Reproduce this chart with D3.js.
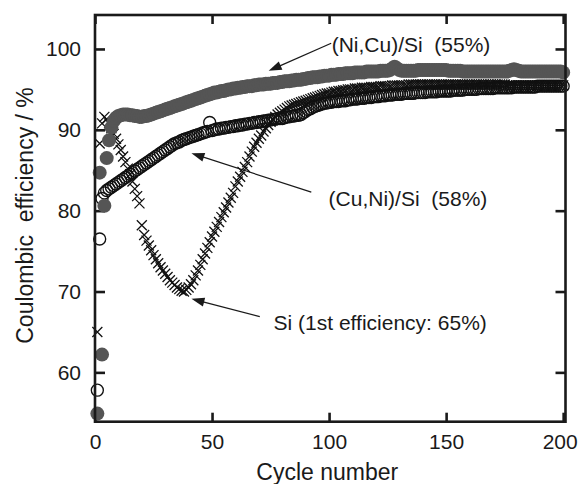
<!DOCTYPE html>
<html><head><meta charset="utf-8">
<script src="https://cdn.jsdelivr.net/npm/d3@7/dist/d3.min.js"></script>
<style>
html,body{margin:0;padding:0;background:#fff;}
svg{display:block;}
text{font-family:"Liberation Sans",Arial,Helvetica,sans-serif;fill:#1a1a1a;}
</style></head><body>
<svg id="chart" width="579" height="484"></svg>
<script>
// ---------- data ----------
const cycles = d3.range(1, 201);

const niCuSi = [
54.9,84.7,62.2,80.6,86.5,88.7,90.3,91.1,91.5,91.7,
91.8,91.9,91.9,91.9,91.8,91.8,91.7,91.7,91.6,91.6,
91.7,91.7,91.8,91.9,92.0,92.1,92.2,92.3,92.4,92.5,
92.6,92.7,92.8,92.9,93.0,93.1,93.2,93.3,93.4,93.5,
93.6,93.7,93.8,93.9,94.0,94.1,94.2,94.3,94.4,94.5,
94.6,94.6,94.7,94.8,94.8,94.9,95.0,95.0,95.1,95.1,
95.2,95.2,95.3,95.3,95.4,95.4,95.4,95.5,95.5,95.6,
95.6,95.6,95.7,95.7,95.7,95.8,95.8,95.8,95.9,95.9,
96.0,96.0,96.0,96.1,96.1,96.2,96.2,96.2,96.3,96.3,
96.4,96.4,96.5,96.5,96.5,96.6,96.6,96.7,96.7,96.7,
96.8,96.8,96.8,96.9,96.9,96.9,97.0,97.0,97.0,97.0,
97.1,97.1,97.1,97.1,97.1,97.2,97.2,97.2,97.2,97.2,
97.2,97.3,97.3,97.3,97.3,97.4,97.6,97.8,97.6,97.4,
97.3,97.3,97.3,97.3,97.3,97.3,97.3,97.4,97.4,97.4,
97.4,97.4,97.4,97.4,97.4,97.4,97.4,97.4,97.4,97.4,
97.3,97.3,97.3,97.3,97.3,97.3,97.2,97.2,97.2,97.2,
97.2,97.2,97.2,97.2,97.2,97.2,97.2,97.2,97.2,97.2,
97.2,97.2,97.2,97.2,97.2,97.2,97.3,97.4,97.5,97.4,
97.3,97.2,97.2,97.2,97.2,97.2,97.2,97.2,97.2,97.2,
97.2,97.2,97.2,97.2,97.2,97.2,97.2,97.2,97.2,97.1];

const cuNiSi = [
57.8,76.5,81.5,82.2,82.5,82.7,82.9,83.1,83.3,83.5,
83.7,83.9,84.1,84.3,84.5,84.7,84.9,85.1,85.3,85.5,
85.7,85.9,86.1,86.3,86.5,86.7,86.9,87.1,87.3,87.5,
87.7,87.9,88.1,88.3,88.4,88.5,88.7,88.8,88.9,89.0,
89.1,89.2,89.3,89.4,89.5,89.6,89.7,89.8,90.9,89.9,
90.0,90.1,90.1,90.2,90.2,90.3,90.3,90.4,90.4,90.5,
90.5,90.6,90.6,90.7,90.7,90.8,90.8,90.9,90.9,91.0,
91.0,91.1,91.1,91.2,91.2,91.3,91.3,91.4,91.4,91.4,
91.5,91.6,91.6,91.7,91.7,91.8,91.8,91.9,92.1,92.3,
92.5,92.6,92.8,92.9,93.0,93.1,93.2,93.3,93.3,93.4,
93.4,93.5,93.5,93.5,93.6,93.6,93.6,93.7,93.7,93.8,
93.8,93.8,93.9,93.9,93.9,94.0,94.0,94.0,94.1,94.1,
94.1,94.2,94.2,94.2,94.3,94.3,94.3,94.4,94.4,94.4,
94.4,94.5,94.5,94.5,94.5,94.5,94.6,94.6,94.6,94.6,
94.6,94.7,94.7,94.7,94.7,94.7,94.8,94.8,94.8,94.8,
94.8,94.8,94.9,94.9,94.9,94.9,94.9,95.0,95.0,95.0,
95.0,95.0,95.0,95.1,95.1,95.1,95.1,95.1,95.1,95.1,
95.2,95.2,95.2,95.2,95.2,95.2,95.2,95.2,95.3,95.3,
95.3,95.3,95.3,95.3,95.3,95.3,95.3,95.3,95.4,95.4,
95.4,95.4,95.4,95.4,95.4,95.4,95.4,95.4,95.4,95.4];

const si = [
65.0,88.3,90.8,91.6,91.3,90.8,90.2,89.5,88.9,88.2,
87.5,86.7,86.0,85.2,84.5,83.6,82.7,81.8,80.9,78.2,
77.0,76.3,75.7,75.1,74.5,74.0,73.5,73.0,72.6,72.2,
71.8,71.4,71.1,70.8,70.5,70.3,70.1,70.0,70.2,70.5,
70.9,71.4,72.0,72.6,73.3,74.0,74.7,75.4,76.1,76.8,
77.4,78.0,78.6,79.2,79.8,80.4,81.0,81.6,82.2,83.0,
83.6,84.2,84.8,85.4,86.0,86.7,87.3,87.9,88.4,88.9,
89.3,89.8,90.2,90.6,91.0,91.3,91.6,91.9,92.1,92.3,
92.5,92.7,92.9,93.0,93.1,93.2,93.3,93.4,93.5,93.6,
93.7,93.8,93.9,94.0,94.1,94.2,94.3,94.4,94.5,94.5,
94.6,94.7,94.7,94.8,94.8,94.9,94.9,95.0,95.0,95.0,
95.1,95.1,95.1,95.2,95.2,95.2,95.2,95.3,95.3,95.3,
95.3,95.4,95.4,95.4,95.4,95.4,95.5,95.5,95.5,95.5,
95.5,95.5,95.5,95.6,95.6,95.6,95.6,95.6,95.6,95.6,
95.6,95.6,95.6,95.6,95.6,95.6,95.6,95.6,95.6,95.6,
95.6,95.6,95.6,95.6,95.6,95.6,95.6,95.6,95.6,95.6,
95.6,95.6,95.6,95.6,95.6,95.6,95.6,95.6,95.6,95.6,
95.6,95.6,95.6,95.6,95.6,95.5,95.5,95.5,95.5,95.5,
95.5,95.5,95.5,95.5,95.5,95.5,95.5,95.5,95.5,95.5,
95.5,95.5,95.5,95.5,95.5,95.5,95.5,95.5,95.5,95.5];

const xTicks = [0, 50, 100, 150, 200];
const yTicks = [60, 70, 80, 90, 100];
const seriesLabels = ["(Ni,Cu)/Si  (55%)", "(Cu,Ni)/Si  (58%)", "Si (1st efficiency: 65%)"];
const xTitle = "Cycle number";
const yTitle = "Coulombic  efficiency / %";

// annotation anchors (data units)
const annLabelPos = [[101.1, 99.6], [99.8, 80.6], [76.3, 65.2]];
const annArrowFrom = [[100.9, 100.7], [92.4, 82.3], [70.4, 66.9]];
const annArrowTo = [[74.2, 97.3], [41.2, 87.1], [41.2, 69.1]];

// ---------- layout ----------
const svg = d3.select("#chart");
const L = 95, R = 565.5, T = 15, B = 421.7;
const x = d3.scaleLinear().domain([0, 201]).range([L, R]);
const y = d3.scaleLinear().domain([53.9, 104.2]).range([B, T]);
const ink = "#1a1a1a";

// axes
const gL = svg.append("g").attr("transform", `translate(${L},0)`)
  .call(d3.axisLeft(y).tickValues(yTicks).tickSizeInner(-10).tickSizeOuter(0).tickPadding(14));
const gR = svg.append("g").attr("transform", `translate(${R},0)`)
  .call(d3.axisRight(y).tickValues(yTicks).tickSizeInner(-10).tickSizeOuter(0).tickFormat(""));
const gB = svg.append("g").attr("transform", `translate(0,${B})`)
  .call(d3.axisBottom(x).tickValues(xTicks).tickSizeInner(-9).tickSizeOuter(0).tickPadding(12));
const gT = svg.append("g").attr("transform", `translate(0,${T})`)
  .call(d3.axisTop(x).tickValues(xTicks).tickSizeInner(-9).tickSizeOuter(0).tickFormat(""));
[gL, gR, gB, gT].forEach(g => {
  g.select(".domain").remove();
  g.selectAll(".tick line").attr("stroke", ink).attr("stroke-width", 2.6);
  g.selectAll(".tick text").attr("font-size", 21).attr("fill", ink)
    .attr("font-family", '"Liberation Sans",Arial,sans-serif');
});
// last x label sits slightly inward, as in the original
gB.selectAll(".tick text").filter(d => d === 200).attr("dx", -3.5);

// series
const pts = (arr) => arr.map((v, i) => [cycles[i], v]);

svg.append("g").selectAll("circle").data(pts(cuNiSi)).join("circle")
  .attr("cx", d => x(d[0])).attr("cy", d => y(d[1])).attr("r", 6)
  .attr("fill", "none").attr("stroke", "#111").attr("stroke-width", 1.35);

const xs = 5;
svg.append("g").selectAll("path").data(pts(si)).join("path")
  .attr("d", d => {
    const cx = x(d[0]), cy = y(d[1]);
    return `M${cx - xs},${cy - xs}L${cx + xs},${cy + xs}M${cx - xs},${cy + xs}L${cx + xs},${cy - xs}`;
  })
  .attr("stroke", "#111").attr("stroke-width", 1.3).attr("fill", "none");

svg.append("g").selectAll("circle").data(pts(niCuSi)).join("circle")
  .attr("cx", d => x(d[0])).attr("cy", d => y(d[1])).attr("r", 7)
  .attr("fill", "#555555");

// frame (drawn after data)
svg.append("rect").attr("x", L).attr("y", T).attr("width", R - L).attr("height", B - T)
  .attr("fill", "none").attr("stroke", ink).attr("stroke-width", 2.6);

// annotations
const gA = svg.append("g");
seriesLabels.forEach((lab, i) => {
  const [x0, y0] = [x(annArrowFrom[i][0]), y(annArrowFrom[i][1])];
  const [x1, y1] = [x(annArrowTo[i][0]), y(annArrowTo[i][1])];
  const dx = x1 - x0, dy = y1 - y0, len = Math.hypot(dx, dy);
  const ux = dx / len, uy = dy / len;
  const hl = 13, hw = 4.5;
  const bx = x1 - ux * hl, by = y1 - uy * hl;
  gA.append("line").attr("x1", x0).attr("y1", y0).attr("x2", bx + ux * 2).attr("y2", by + uy * 2)
    .attr("stroke", ink).attr("stroke-width", 1.2);
  gA.append("path")
    .attr("d", `M${x1},${y1}L${bx - uy * hw},${by + ux * hw}L${bx + uy * hw},${by - ux * hw}Z`)
    .attr("fill", ink);
  gA.append("text").attr("x", x(annLabelPos[i][0])).attr("y", y(annLabelPos[i][1]))
    .attr("font-size", 21).style("white-space", "pre").text(lab);
});

// axis titles
svg.append("text").attr("x", (L + R) / 2 - 3).attr("y", 480).attr("text-anchor", "middle")
  .attr("font-size", 23).text(xTitle);
svg.append("text").attr("transform", "translate(33.3,215.5) rotate(-90)").attr("text-anchor", "middle")
  .attr("font-size", 23).style("white-space", "pre").text(yTitle);
</script>
</body></html>
